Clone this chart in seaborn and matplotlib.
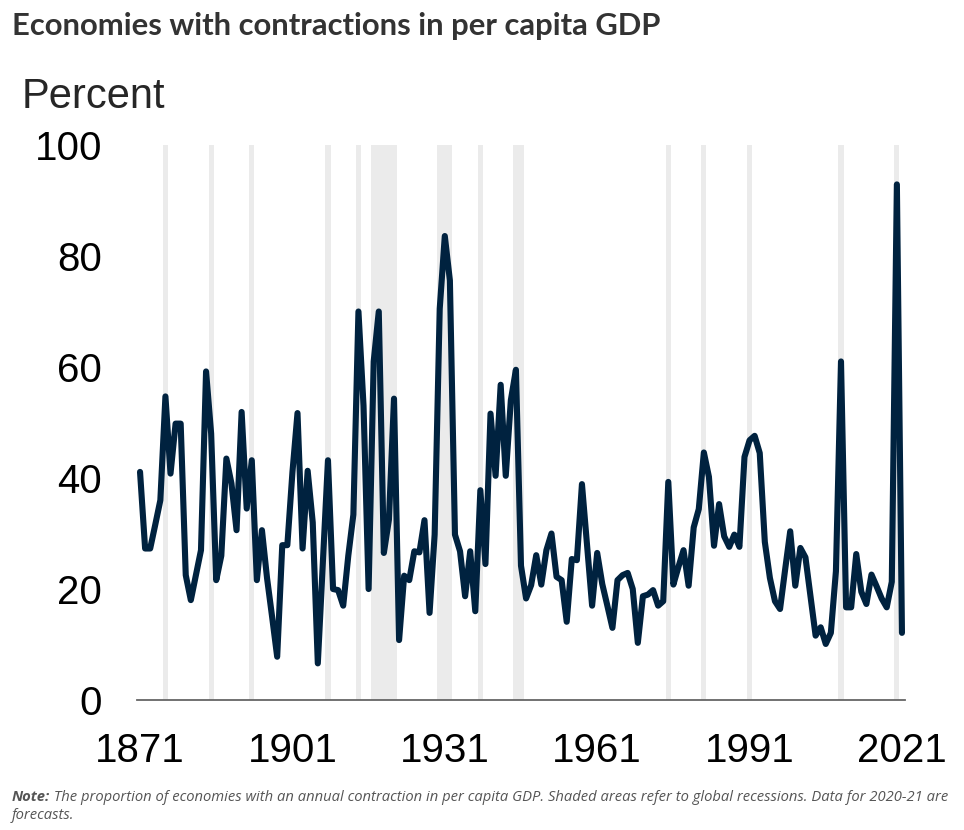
import pandas as pd
import matplotlib.pyplot as plt
import seaborn as sns

# share of economies with a contraction in per capita GDP, 1871-2021
years = list(range(1871, 2022))
share = [
    41.1, 27.3, 27.3, 31.6, 36.0, 54.7, 40.8, 49.8, 49.8, 22.5,   # 1871-1880
    18.0, 22.5, 27.0, 59.2, 48.0, 21.6, 26.0, 43.5, 39.0, 30.6,   # 1881-1890
    51.9, 34.5, 43.2, 21.6, 30.6, 22.0, 15.0, 7.8, 27.9, 27.9,    # 1891-1900
    41.0, 51.7, 27.3, 41.3, 32.0, 6.6, 25.0, 43.2, 20.0, 19.8,    # 1901-1910
    17.0, 26.0, 33.4, 70.0, 53.0, 20.0, 61.0, 70.0, 26.5, 32.5,   # 1911-1920
    54.3, 10.8, 22.4, 21.6, 26.8, 26.6, 32.4, 15.7, 29.8, 70.5,   # 1921-1930
    83.6, 75.6, 29.8, 26.8, 18.7, 26.8, 16.0, 37.8, 24.5, 51.6,   # 1931-1940
    40.4, 56.8, 40.4, 54.0, 59.5, 24.2, 18.3, 20.7, 26.1, 20.8,   # 1941-1950
    27.0, 30.0, 22.2, 21.6, 14.1, 25.4, 25.2, 38.9, 28.0, 17.0,   # 1951-1960
    26.5, 20.9, 17.0, 13.0, 21.6, 22.5, 22.9, 20.0, 10.3, 18.7,   # 1961-1970
    19.0, 19.8, 17.0, 17.8, 39.3, 20.8, 24.0, 27.0, 20.6, 31.1,   # 1971-1980
    34.4, 44.6, 40.2, 27.8, 35.3, 29.5, 27.6, 29.8, 27.6, 43.8,   # 1981-1990
    46.8, 47.6, 44.5, 28.5, 22.0, 17.8, 16.4, 23.5, 30.4, 20.6,   # 1991-2000
    27.4, 25.7, 18.7, 11.6, 13.1, 10.1, 12.1, 23.2, 61.0, 16.7,   # 2001-2010
    16.7, 26.3, 19.5, 17.3, 22.6, 20.5, 18.3, 16.7, 21.3, 92.9,   # 2011-2020
    12.1,                                                        # 2021
]

# global recessions (shaded), first and last year of each episode
rec_start = [1876, 1885, 1893, 1908, 1914, 1917, 1930, 1938, 1945, 1975, 1982, 1991, 2009, 2020]
rec_end = [1876, 1885, 1893, 1908, 1914, 1921, 1932, 1938, 1946, 1975, 1982, 1991, 2009, 2020]

xtick_years = [1871, 1901, 1931, 1961, 1991, 2021]
yticks = [0, 20, 40, 60, 80, 100]

title = "Economies with contractions in per capita GDP"
note_head = "Note:"
note_line1 = (" The proportion of economies with an annual contraction in per capita GDP. "
              "Shaded areas refer to global recessions. Data for 2020-21 are")
note_line2 = "forecasts."

sns.set_style("white")
plt.rcParams['font.family'] = ['Liberation Sans', 'DejaVu Sans']

fig = plt.figure(figsize=(9.64, 8.30), dpi=100)
ax = fig.add_axes([0.1421, 0.1566, 0.7967, 0.6687])

for s, e in zip(rec_start, rec_end):
    ax.axvspan(s - 0.5, e + 0.5, color='#ebebeb', lw=0, zorder=0)

df = pd.DataFrame({'year': years, 'share': share})
sns.lineplot(data=df, x='year', y='share', ax=ax, color='#00223f',
             linewidth=4.4, solid_joinstyle='round', solid_capstyle='round', zorder=3)

ax.set_xlim(1870.4, 2021.6)
ax.set_ylim(0, 100)
ax.set_xticks(xtick_years)
ax.set_yticks(yticks)
ax.set_xlabel('')
ax.set_ylabel('')
ax.tick_params(axis='both', length=0, labelsize=29, colors='black')
ax.tick_params(axis='y', pad=25)
ax.tick_params(axis='x', pad=23)
for side in ['top', 'right', 'left']:
    ax.spines[side].set_visible(False)
ax.spines['bottom'].set_color('#666666')
ax.spines['bottom'].set_linewidth(1.3)

fig.text(22 / 964, 1 - 97 / 830, "Percent", fontsize=30, va='center', ha='left')
fig.text(12 / 964, 1 - 26 / 830, title, fontsize=22.3, fontweight='bold',
         family=['Lato', 'DejaVu Sans'], color='#333333', va='center', ha='left')

t1 = fig.text(12 / 964, 1 - 797 / 830, note_head, fontsize=10.6, style='italic', fontweight='bold',
              family=['Open Sans', 'DejaVu Sans'], color='#555555', va='center', ha='left')
fig.canvas.draw()
bb = t1.get_window_extent()
fig.text(bb.x1 / fig.bbox.width, 1 - 797 / 830, note_line1, fontsize=10.6, style='italic',
         family=['Open Sans', 'DejaVu Sans'], color='#555555', va='center', ha='left')
fig.text(12 / 964, 1 - 815 / 830, note_line2, fontsize=10.6, style='italic',
         family=['Open Sans', 'DejaVu Sans'], color='#555555', va='center', ha='left')

fig.savefig('out.png', dpi=100)
